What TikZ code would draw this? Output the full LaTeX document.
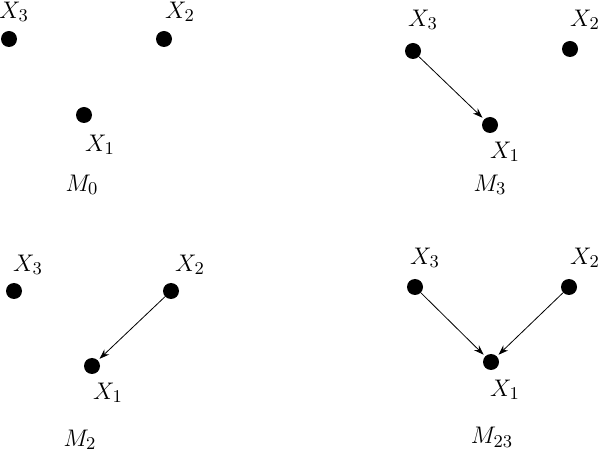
\documentclass[tikz,border=0pt]{standalone}
\usetikzlibrary{arrows.meta}
\begin{document}
\begin{tikzpicture}[x=0.5pt,y=-0.5pt,
  dot/.style={circle,fill=black,inner sep=0pt,minimum size=8pt},
  lab/.style={inner sep=0pt,font=\fontsize{13}{15}\selectfont},
  arr/.style={-{Stealth[length=5pt,width=3.5pt]},line width=0.4pt,shorten >=1pt}]
\useasboundingbox (0,0) rectangle (600,454);
% M0
\node[dot] (a3) at (9,39) {}; \node[lab] (la3) at (14,12) {$X_3$};
\node[dot] (a2) at (164,39) {}; \node[lab] (la2) at (180,12) {$X_2$};
\node[dot] (a1) at (84,115) {}; \node[lab] (la1) at (100,145) {$X_1$};
\node[lab] (m0) at (82,185) {$M_0$};
% M3
\node[dot] (b3) at (413,51) {}; \node[lab] (lb3) at (423,20) {$X_3$};
\node[dot] (b2) at (570,49) {}; \node[lab] (lb2) at (585,20) {$X_2$};
\node[dot] (b1) at (490,125) {}; \node[lab] (lb1) at (505,152) {$X_1$};
\node[lab] (m3) at (490,185) {$M_3$};
\draw[arr] (b3) -- (b1);
% M2
\node[dot] (c3) at (14,291) {}; \node[lab] (lc3) at (28,265) {$X_3$};
\node[dot] (c2) at (171,291) {}; \node[lab] (lc2) at (190,265) {$X_2$};
\node[dot] (c1) at (92,366) {}; \node[lab] (lc1) at (108,393) {$X_1$};
\node[lab] (m2) at (80,440) {$M_2$};
\draw[arr] (c2) -- (c1);
% M23
\node[dot] (d3) at (415,287) {}; \node[lab] (ld3) at (425,258) {$X_3$};
\node[dot] (d2) at (569,287) {}; \node[lab] (ld2) at (585,258) {$X_2$};
\node[dot] (d1) at (491,362) {}; \node[lab] (ld1) at (505,390) {$X_1$};
\node[lab] (m23) at (492,437) {$M_{23}$};
\draw[arr] (d3) -- (d1);
\draw[arr] (d2) -- (d1);
\end{tikzpicture}
\end{document}
